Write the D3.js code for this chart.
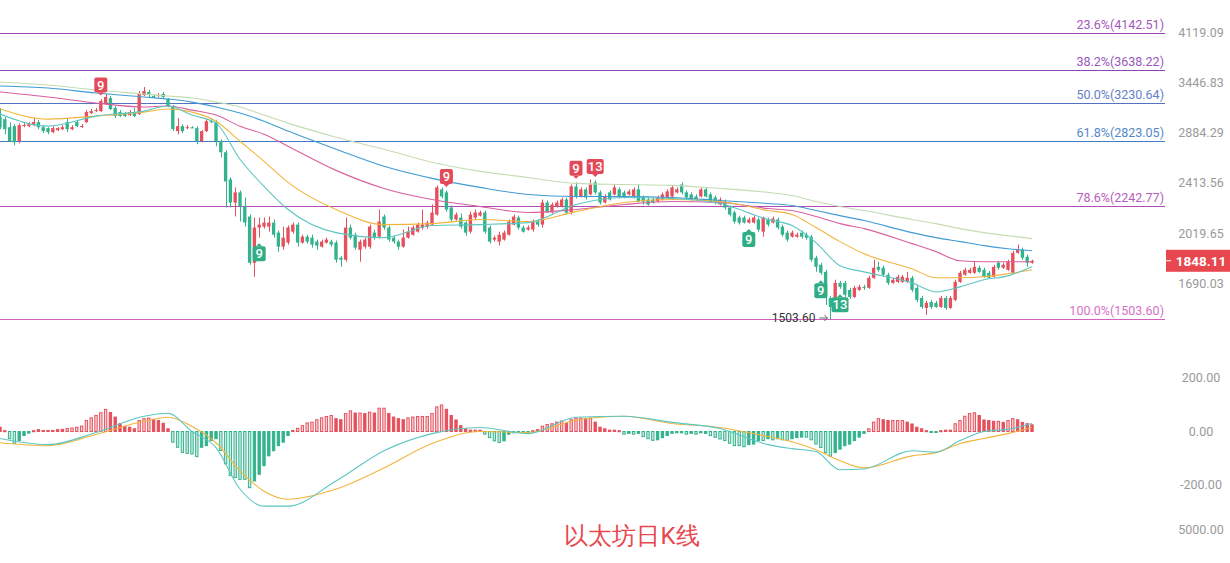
<!DOCTYPE html>
<html>
<head>
<meta charset="utf-8">
<script src="https://cdn.jsdelivr.net/npm/d3@7"></script>
<style>
  body { margin: 0; background: #fff; }
  text { font-family: Roboto, "Noto Sans", sans-serif; }
</style>
</head>
<body>
<div id="chart"></div>
<script>
// Data: daily candles [open, high, low, close]
var ohlc = [
  [3075,3175,2946,2967],[3053,3075,2894,2946],[2967,3021,2813,2823],[2978,2999,2783,2813],[2823,3010,2803,2988],
  [2985,3010,2967,2990],[2978,3021,2967,2999],[2988,3064,2978,3021],[3021,3042,2946,2967],[2967,2988,2905,2926],
  [2957,2967,2894,2915],[2915,2978,2905,2957],[2936,2967,2926,2957],[2946,2988,2936,2967],[3021,3064,2915,2946],
  [2946,2988,2936,2967],[3021,3042,2967,2978],[2975,2999,2957,2980],[3021,3152,3010,3130],[3119,3164,3108,3141],
  [3141,3175,3130,3152],[3141,3278,3130,3255],[3220,3337,3209,3302],[3290,3313,3152,3164],[3175,3198,3064,3086],
  [3130,3152,3075,3086],[3119,3130,3075,3086],[3097,3152,3086,3130],[3130,3175,3075,3086],[3108,3373,3097,3337],
  [3325,3421,3313,3373],[3361,3385,3302,3325],[3315,3337,3290,3310],[3313,3349,3302,3325],[3337,3361,3278,3302],
  [3278,3290,3186,3198],[3186,3209,2926,2946],[2926,3064,2894,2978],[2978,2999,2905,2926],[2957,2988,2946,2967],
  [2965,2978,2957,2962],[2957,2978,2793,2823],[2823,2936,2813,2926],[2926,3053,2915,3031],[3031,3053,3010,3021],
  [3021,3042,2773,2823],[2823,2843,2667,2715],[2715,2734,2232,2448],[2466,2484,2232,2272],[2272,2397,2162,2355],
  [2355,2371,2124,2240],[2240,2313,2086,2116],[2162,2177,1822,1835],[1835,2154,1746,2079],[2079,2154,2006,2101],
  [2086,2154,2071,2116],[2086,2162,2049,2116],[2116,2139,2006,2027],[2042,2057,1908,1943],[1943,2086,1922,2006],
  [1971,2094,1957,2079],[2049,2116,2035,2101],[2101,2116,1943,1971],[1971,2027,1964,2013],[2013,2027,1964,1978],
  [2006,2027,1936,1957],[1978,1992,1922,1950],[1943,1992,1936,1978],[1971,2006,1964,1992],[1978,1992,1943,1957],
  [1971,1985,1835,1855],[1868,1881,1809,1855],[1855,2154,1842,2079],[2079,2101,1992,2006],[2027,2042,1922,1936],
  [1922,1992,1842,1978],[1943,2006,1929,1992],[1943,2101,1929,2086],[2042,2064,1992,2006],[2013,2216,1999,2124],
  [2162,2177,2064,2079],[2079,2094,1978,1992],[2006,2020,1964,1978],[1978,1992,1922,1943],[1943,2064,1936,2006],
  [2006,2086,1999,2049],[2027,2094,2020,2079],[2049,2116,2042,2101],[2079,2216,2064,2101],[2086,2131,2071,2116],
  [2101,2256,2094,2193],[2177,2414,2169,2397],[2380,2397,2305,2321],[2355,2371,2200,2216],[2232,2248,2124,2139],
  [2139,2193,2131,2177],[2154,2185,2071,2086],[2116,2131,2020,2042],[2049,2200,2035,2177],[2154,2216,2139,2193],
  [2169,2208,2162,2193],[2193,2208,2035,2049],[2079,2094,1964,1978],[1992,2020,1978,2006],[1978,2049,1950,2027],
  [1992,2057,1985,2042],[2027,2139,2020,2124],[2101,2177,2094,2162],[2154,2169,2064,2079],[2079,2094,2042,2049],
  [2064,2094,2057,2079],[2064,2139,2049,2124],[2124,2139,2086,2101],[2101,2296,2079,2272],[2272,2288,2193,2193],
  [2193,2272,2185,2256],[2240,2288,2232,2272],[2240,2313,2232,2296],[2296,2313,2177,2193],[2193,2422,2177,2405],
  [2405,2440,2305,2321],[2321,2397,2313,2380],[2380,2397,2296,2313],[2338,2466,2329,2422],[2440,2457,2338,2355],
  [2355,2371,2256,2272],[2272,2338,2264,2321],[2355,2371,2288,2296],[2338,2422,2329,2397],[2380,2397,2305,2321],
  [2355,2371,2305,2321],[2338,2380,2329,2363],[2321,2397,2305,2380],[2380,2422,2272,2280],[2313,2329,2256,2280],
  [2296,2313,2248,2256],[2296,2313,2264,2272],[2280,2329,2272,2313],[2296,2355,2288,2338],[2313,2380,2305,2363],
  [2321,2414,2313,2397],[2355,2397,2346,2380],[2422,2440,2338,2355],[2355,2371,2296,2313],[2338,2355,2288,2296],
  [2321,2338,2288,2296],[2321,2397,2313,2380],[2380,2397,2313,2321],[2338,2355,2272,2280],[2313,2329,2256,2272],
  [2256,2313,2248,2296],[2280,2296,2216,2232],[2232,2248,2162,2177],[2193,2208,2109,2124],[2154,2169,2101,2116],
  [2154,2169,2109,2116],[2116,2154,2109,2139],[2116,2169,2109,2154],[2139,2154,2049,2064],[2049,2162,2013,2154],
  [2139,2154,2086,2101],[2116,2162,2109,2146],[2139,2154,2064,2079],[2086,2101,2013,2027],[2042,2057,1978,1992],
  [2013,2057,2006,2042],[2013,2042,2006,2027],[2042,2057,1999,2013],[2027,2042,1992,2006],[2013,2027,1842,1855],
  [1868,1881,1777,1809],[1822,1835,1759,1771],[1777,1790,1580,1626],[1620,1632,1503.6,1569],[1609,1728,1597,1709],
  [1709,1721,1673,1685],[1709,1721,1626,1638],[1667,1679,1614,1626],[1626,1691,1620,1679],[1667,1697,1661,1685],
  [1685,1697,1667,1679],[1679,1752,1673,1740],[1740,1855,1734,1803],[1809,1842,1777,1790],[1803,1816,1746,1759],
  [1759,1771,1697,1709],[1709,1740,1703,1728],[1715,1759,1709,1746],[1715,1759,1709,1746],[1715,1777,1709,1740],
  [1740,1752,1655,1667],[1679,1691,1597,1609],[1620,1632,1558,1569],[1564,1603,1525,1592],[1597,1609,1558,1569],
  [1592,1603,1564,1569],[1569,1632,1564,1620],[1620,1632,1553,1564],[1564,1632,1558,1620],[1609,1728,1603,1715],
  [1715,1783,1709,1771],[1759,1803,1752,1790],[1771,1803,1765,1790],[1771,1842,1765,1809],[1803,1816,1771,1777],
  [1790,1803,1740,1746],[1771,1783,1734,1740],[1746,1822,1740,1809],[1835,1848,1790,1803],[1803,1835,1796,1822],
  [1790,1855,1783,1842],[1771,1915,1765,1901],[1901,1957,1895,1922],[1922,1936,1855,1868],[1875,1888,1809,1835],
  [1835,1855,1829,1848.11]
];

// moving averages and MACD lines, read at these candle indices
var sampleIdx = [0,10,20,30,35,40,45,50,55,60,70,80,90,100,110,120,130,140,150,160,165,170,175,180,190,195,200,205,210,215];
var maTeal   = [3108,2978,3086,3141,3198,3097,3010,2648,2405,2216,2042,2006,2094,2101,2116,2256,2313,2305,2264,2139,2094,1971,1816,1777,1709,1655,1685,1728,1752,1809];
var maOrange = [3164,3053,3086,3130,3164,3130,3031,2823,2629,2440,2216,2101,2108,2139,2124,2200,2272,2296,2280,2208,2177,2079,1978,1895,1796,1740,1740,1746,1765,1790];
var maPink   = [3361,3302,3232,3187,3198,3152,3097,2978,2894,2773,2546,2388,2296,2240,2193,2216,2256,2280,2272,2224,2208,2162,2108,2071,1964,1909,1848,1842,1842,1842];
var maBlue   = [3433,3409,3349,3302,3278,3243,3187,3119,3031,2926,2744,2583,2475,2397,2338,2321,2321,2313,2288,2264,2248,2208,2169,2131,2042,2006,1978,1950,1929,1915];
var maSage   = [3483,3445,3385,3337,3313,3290,3243,3187,3097,3010,2864,2744,2620,2537,2483,2431,2422,2414,2388,2355,2329,2280,2240,2208,2139,2108,2071,2042,2020,1999];
var dif = [-26,-49,-4,57,68,0,-60,-215,-279,-279,-185,-72,-8,15,-8,53,57,34,11,-49,-64,-75,-143,-140,-72,-77,-34,0,8,30];
var dea = [-42,-53,-11,38,53,19,-42,-147,-223,-253,-215,-136,-45,0,-4,42,57,30,15,-19,-38,-68,-109,-136,-91,-79,-45,-26,-8,15];

// MACD histogram, one per candle
var macdHist = [
  16,3,-27,-44,-34,-15,-6,3,7,4, 4,4,7,8,11,13,16,20,41,51, 60,70,83,71,54,29,19,16,10,41,
  48,50,44,41,31,10,-40,-59,-78,-82, -84,-94,-59,-53,-34,-27,-71,-121,-165,-172, -179,-179,-210,-185,-160,-128,-91,-72,-53,-40,
  -15,4,12,22,32,35,44,51,56,60, 48,44,67,77,69,69,67,72,69,87, 87,67,54,48,44,51,54,56,56,56,
  67,92,99,83,60,43,22,10,5,5, 5,-10,-23,-35,-41,-35,-10,-5,-3,-3, -3,3,7,20,26,29,35,39,31,44,
  50,50,48,50,35,16,10,5,5,3, -10,-7,-10,-7,-19,-27,-33,-31,-23,-15, -7,-5,-5,-10,-7,-10,-5,-7,-15,-22,
  -28,-34,-44,-53,-53,-57,-49,-47,-34,-34, -27,-31,-27,-31,-33,-27,-23,-21,-21,-31, -47,-60,-79,-92,-79,-66,-53,-47,-34,-21,
  -7,10,35,48,44,41,41,41,41,35, 28,16,10,3,-3,-3,3,5,5,29, 41,57,67,70,60,43,41,38,38,34,
  41,48,44,34,29,25
];

// Fibonacci levels
var fibNames  = ['23.6%','38.2%','50.0%','61.8%','78.6%','100.0%'];
var fibPrices = [4142.51, 3638.22, 3230.64, 2823.05, 2242.77, 1503.60];
var fibColors = ['#9a45b4','#8c45b6','#5472c2','#3f7cc4','#b04cb4','#d35fc2'];

// axis labels
var priceTicks = [4119.09, 3446.83, 2884.29, 2413.56, 2019.65, 1690.03];
var macdTicks = [200, 0, -200];
var volTicks = [5000];

// TD sequential marks
var tdIndex = [21, 93, 120, 124, 54, 156, 171, 175];
var tdText  = ['9','9','9','13','9','9','9','13'];
var tdUp    = [true, true, true, true, false, false, false, false];

var lowIndex = 173;
var title = '以太坊日K线';

var W = 1230, H = 563, plotRight = 1165;
var upColor = '#e5505c', downColor = '#33b38d';

var svg = d3.select('#chart').append('svg')
  .attr('width', W).attr('height', H)
  .style('background', '#fff');

svg.append('defs').append('clipPath').attr('id', 'plot')
  .append('rect').attr('x', 0).attr('y', 0).attr('width', plotRight).attr('height', H);

// Scales
var step = 4.8;
var xBand = d3.scaleBand()
  .domain(d3.range(ohlc.length))
  .range([-step / 2, -step / 2 + step * ohlc.length])
  .paddingInner(0.3).paddingOuter(0.15);
var xc = i => xBand(i) + xBand.bandwidth() / 2;

var yP = d3.scaleLog().domain([1503.6, 4142.51]).range([319, 33]);
var yM = d3.scaleLinear().domain([-200, 200]).range([485, 378]);
var yV = d3.scaleLinear().domain([0, 5000]).range([563, 530]);

var plot = svg.append('g').attr('clip-path', 'url(#plot)');

// Fib lines
fibPrices.forEach((p, k) => {
  var y = Math.round(yP(p)) + 0.5;
  plot.append('line').attr('x1', 0).attr('x2', plotRight).attr('y1', y).attr('y2', y)
    .attr('stroke', fibColors[k]).attr('stroke-width', 1);
  svg.append('text').attr('x', plotRight - 1).attr('y', y - 5)
    .attr('text-anchor', 'end').attr('font-size', 12.5).attr('fill', fibColors[k]).attr('opacity', 0.9)
    .text(fibNames[k] + '(' + p.toFixed(2) + ')');
});

// Candles
var candles = plot.append('g').selectAll('g').data(ohlc).enter().append('g');
candles.append('line')
  .attr('x1', (d, i) => Math.round(xc(i)) + 0.5).attr('x2', (d, i) => Math.round(xc(i)) + 0.5)
  .attr('y1', d => yP(d[1])).attr('y2', d => yP(d[2]))
  .attr('stroke', d => d[3] >= d[0] ? upColor : downColor).attr('stroke-width', 1);
candles.append('rect')
  .attr('x', (d, i) => xBand(i)).attr('width', xBand.bandwidth())
  .attr('y', d => yP(Math.max(d[0], d[3])))
  .attr('height', d => Math.max(1, Math.abs(yP(d[0]) - yP(d[3]))))
  .attr('fill', d => d[3] >= d[0] ? upColor : downColor);

// Moving averages
var maList = [[maSage, '#c5dcb3'], [maBlue, '#409bd5'], [maPink, '#d9609f'], [maOrange, '#f2b53c'], [maTeal, '#5cc6c2']];
maList.forEach(m => {
  var line = d3.line().x((v, k) => xc(sampleIdx[k])).y(v => yP(v)).curve(d3.curveMonotoneX);
  plot.append('path').attr('d', line(m[0])).attr('fill', 'none').attr('stroke', m[1]).attr('stroke-width', 1.1);
});

// TD marks
tdIndex.forEach((idx, k) => {
  var d = ohlc[idx];
  var w = tdText[k].length > 1 ? 17 : 13, h = 15;
  var cx = xc(idx);
  var cy = tdUp[k] ? yP(d[1]) - 14 : yP(d[2]) + 16;
  var col = tdUp[k] ? '#e24a5a' : '#2fae86';
  var g = svg.append('g');
  g.append('rect').attr('x', cx - w / 2).attr('y', cy - h / 2).attr('width', w).attr('height', h)
    .attr('rx', 2).attr('fill', col);
  var ty = tdUp[k] ? cy + h / 2 : cy - h / 2;
  var dir = tdUp[k] ? 1 : -1;
  g.append('path').attr('d', 'M' + (cx - 3) + ',' + ty + 'L' + (cx + 3) + ',' + ty + 'L' + cx + ',' + (ty + 3 * dir) + 'Z')
    .attr('fill', col);
  g.append('text').attr('x', cx).attr('y', cy + 4.5).attr('text-anchor', 'middle')
    .attr('font-size', 13).attr('font-weight', 500).attr('fill', '#fff').text(tdText[k]);
});

// Low annotation
var lowX = xc(lowIndex), lowY = yP(ohlc[lowIndex][2]);
svg.append('text').attr('x', lowX - 15).attr('y', lowY + 3).attr('text-anchor', 'end')
  .attr('font-size', 12).attr('fill', '#333').text(ohlc[lowIndex][2].toFixed(2));
svg.append('line').attr('x1', lowX - 11).attr('x2', lowX - 3).attr('y1', lowY - 1).attr('y2', lowY - 1)
  .attr('stroke', '#666').attr('stroke-width', 1);
svg.append('path').attr('d', 'M' + (lowX - 6) + ',' + (lowY - 4) + 'L' + (lowX - 3) + ',' + (lowY - 1) + 'L' + (lowX - 6) + ',' + (lowY + 2))
  .attr('fill', 'none').attr('stroke', '#666');

// Price axis labels
priceTicks.forEach(t => {
  svg.append('text').attr('x', 1201).attr('y', yP(t) + 2).attr('text-anchor', 'middle')
    .attr('font-size', 12.5).attr('fill', '#9a9a9a').text(t.toFixed(2));
});

// Current price
var last = ohlc[ohlc.length - 1][3];
var ly = yP(last);
svg.append('rect').attr('x', 1166).attr('y', ly - 11).attr('width', 64).attr('height', 22).attr('fill', '#e8474f');
svg.append('line').attr('x1', 1166).attr('x2', 1171).attr('y1', ly).attr('y2', ly).attr('stroke', '#fff');
svg.append('text').attr('x', 1201).attr('y', ly + 5).attr('text-anchor', 'middle')
  .attr('font-size', 13.5).attr('font-weight', 'bold').attr('fill', '#fff').text(last.toFixed(2));

// MACD histogram
var mac = plot.append('g');
mac.selectAll('rect').data(macdHist).enter().append('rect')
  .attr('x', (v, i) => xBand(i) + 0.5).attr('width', xBand.bandwidth() - 1)
  .attr('y', v => Math.min(yM(v), yM(0)))
  .attr('height', v => Math.max(1, Math.abs(yM(v) - yM(0))))
  .attr('stroke', v => v >= 0 ? upColor : downColor)
  .attr('stroke-width', 1)
  .attr('fill', (v, i) => {
    var col = v >= 0 ? upColor : downColor;
    var grow = i > 0 && Math.abs(v) >= Math.abs(macdHist[i - 1]) && Math.abs(v) > 8;
    return grow ? d3.color(col).copy({opacity: 0.25}) : col;
  });

var macdLine = d3.line().x((v, k) => xc(sampleIdx[k])).y(v => yM(v)).curve(d3.curveMonotoneX);
mac.append('path').attr('d', macdLine(dea)).attr('fill', 'none').attr('stroke', '#f2b53c').attr('stroke-width', 1.1);
mac.append('path').attr('d', macdLine(dif)).attr('fill', 'none').attr('stroke', '#5cc6c2').attr('stroke-width', 1.1);

macdTicks.forEach(t => {
  svg.append('text').attr('x', 1201).attr('y', yM(t) + 4).attr('text-anchor', 'middle')
    .attr('font-size', 12.5).attr('fill', '#9a9a9a').text(t.toFixed(2));
});
volTicks.forEach(t => {
  svg.append('text').attr('x', 1201).attr('y', yV(t) + 4).attr('text-anchor', 'middle')
    .attr('font-size', 12.5).attr('fill', '#9a9a9a').text(t.toFixed(2));
});

// Title
svg.append('text').attr('x', 632).attr('y', 544).attr('text-anchor', 'middle')
  .attr('font-family', '"Noto Sans CJK SC", sans-serif').attr('font-size', 24)
  .attr('fill', '#e8474f').text(title);
</script>
</body>
</html>
